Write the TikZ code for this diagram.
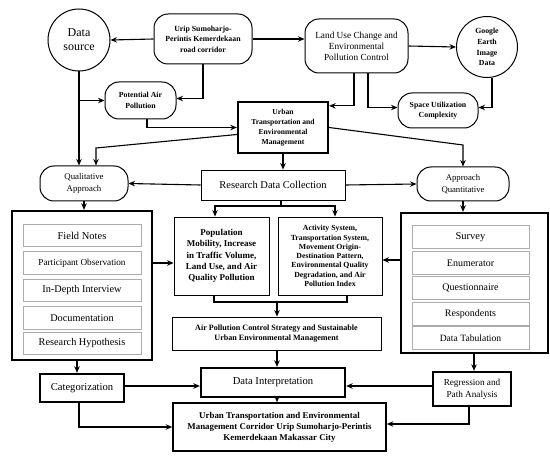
\documentclass[tikz,border=0pt]{standalone}
\usepackage{fontspec}
\setmainfont{Liberation Serif}
\usetikzlibrary{arrows.meta}

\tikzset{
  base/.style={draw, line width=1pt, align=center, inner sep=1pt},
  roundbox/.style={base, rounded corners=14pt},
  heavybox/.style={base, line width=2.3pt},
  listitem/.style={draw=gray!65, line width=0.8pt, align=center, inner sep=1pt,
                   minimum height=22.5pt},
  bubble/.style={circle, draw, line width=1pt, align=center, inner sep=0pt},
  arr/.style={-{Stealth[length=6.5pt,width=5.5pt]}, line width=1.1pt},
  ln/.style={line width=1.1pt},
}

\begin{document}
\begin{tikzpicture}[x=1pt,y=-1pt]
\useasboundingbox (0,0) rectangle (550,460);

% Bovenste rij
\node[bubble, minimum size=62pt, font=\fontsize{12}{14}\selectfont] (src) at (79,40)
    {Data\\source};
\node[roundbox, minimum width=98pt, minimum height=50pt,
      font=\fontsize{7.8}{10.5}\selectfont\bfseries] (road) at (203,39)
    {Urip Sumoharjo-\\Perintis Kemerdekaan\\road corridor};
\node[roundbox, minimum width=103pt, minimum height=54pt,
      font=\fontsize{9.3}{11}\selectfont] (landuse) at (356.5,46)
    {Land Use Change and\\Environmental\\Pollution Control};
\node[bubble, minimum size=61pt, font=\fontsize{7.8}{10.7}\selectfont\bfseries] (earth) at (487,47)
    {Google\\Earth\\Image\\Data};

% Tweede rij
\node[roundbox, minimum width=71pt, minimum height=37pt,
      font=\fontsize{7.8}{11}\selectfont\bfseries] (potair) at (140.5,100.5)
    {Potential Air\\Pollution};
\node[roundbox, minimum width=80pt, minimum height=35pt,
      font=\fontsize{7.8}{10}\selectfont\bfseries] (spaceuse) at (438,110.5)
    {Space Utilization\\Complexity};
\node[heavybox, minimum width=90pt, minimum height=51pt,
      font=\fontsize{7.6}{10}\selectfont\bfseries] (urban) at (283,127.5)
    {Urban\\Transportation and\\Environmental\\Management};

% Benaderingen en dataverzameling
\node[roundbox, minimum width=88pt, minimum height=35pt,
      font=\fontsize{8.8}{12}\selectfont] (qual) at (84,183.5)
    {Qualitative\\Approach};
\node[roundbox, minimum width=92pt, minimum height=34pt,
      font=\fontsize{8.7}{12}\selectfont] (quant) at (463,184)
    {Approach\\Quantitative};
\node[base, line width=0.8pt, minimum width=144pt, minimum height=30pt,
      font=\fontsize{10.5}{12}\selectfont] (collect) at (273,185)
    {Research Data Collection};

% Variabelen
\node[base, line width=0.9pt, minimum width=95pt, minimum height=78pt,
      font=\fontsize{9}{11.3}\selectfont\bfseries] (mobility) at (221.5,256)
    {Population\\Mobility, Increase\\in Traffic Volume,\\Land Use, and Air\\Quality Pollution};
\node[base, line width=0.9pt, minimum width=104pt, minimum height=78pt,
      font=\fontsize{7.8}{9.3}\selectfont\bfseries] (activity) at (330,256)
    {Activity System,\\Transportation System,\\Movement Origin-\\Destination Pattern,\\Environmental Quality\\Degradation, and Air\\Pollution Index};

% Kwalitatieve methoden
\node[heavybox, minimum width=140pt, minimum height=149pt] (qualbox) at (82,285.5) {};
\node[listitem, minimum width=118pt, font=\fontsize{10.5}{12}\selectfont] (notes) at (82,235.5) {Field Notes};
\node[listitem, minimum width=118pt, font=\fontsize{9.2}{12}\selectfont] (observe) at (82,263) {Participant Observation};
\node[listitem, minimum width=118pt, font=\fontsize{10.3}{12}\selectfont] (interview) at (82,290.5) {In-Depth Interview};
\node[listitem, minimum width=118pt, font=\fontsize{10.3}{12}\selectfont] (docs) at (82,318) {Documentation};
\node[listitem, minimum width=118pt, font=\fontsize{10.3}{12}\selectfont] (hypo) at (82,343.5) {Research Hypothesis};

% Kwantitatieve methoden
\node[heavybox, minimum width=147pt, minimum height=140pt] (quantbox) at (474.5,283) {};
\node[listitem, minimum width=117pt, font=\fontsize{10.5}{12}\selectfont] (survey) at (470.5,237) {Survey};
\node[listitem, minimum width=117pt, font=\fontsize{10}{12}\selectfont] (enum) at (470.5,263) {Enumerator};
\node[listitem, minimum width=117pt, font=\fontsize{10}{12}\selectfont] (quest) at (470.5,288) {Questionnaire};
\node[listitem, minimum width=117pt, font=\fontsize{10}{12}\selectfont] (resp) at (470.5,314) {Respondents};
\node[listitem, minimum width=117pt, font=\fontsize{9.6}{12}\selectfont] (tabul) at (470.5,338) {Data Tabulation};

% Onderste deel
\node[base, line width=0.9pt, minimum width=209pt, minimum height=33pt,
      font=\fontsize{8.1}{10.7}\selectfont\bfseries] (strategy) at (276.5,333.5)
    {Air Pollution Control Strategy and Sustainable\\Urban Environmental Management};
\node[heavybox, minimum width=144pt, minimum height=29pt,
      font=\fontsize{10.6}{12}\selectfont] (interp) at (273,382.5)
    {Data Interpretation};
\node[heavybox, minimum width=84pt, minimum height=28pt,
      font=\fontsize{10.6}{12}\selectfont] (categ) at (82,388)
    {Categorization};
\node[heavybox, minimum width=78pt, minimum height=34pt,
      font=\fontsize{9.2}{12}\selectfont] (regress) at (472,389)
    {Regression and\\Path Analysis};
\node[base, line width=1.5pt, minimum width=213pt, minimum height=48pt,
      font=\fontsize{8.9}{11}\selectfont\bfseries] (corridor) at (279.5,427)
    {Urban Transportation and Environmental\\Management Corridor Urip Sumoharjo-Perintis\\Kemerdekaan Makassar City};

% Hulpcoordinaten
\coordinate (qbend) at (96,148);
\coordinate (nbend) at (463,145);
\coordinate (split) at (281,206);
\coordinate (join) at (277,302);

% Verbindingen bovenaan
\draw[arr] (road.west) -- (src.east);
\draw[arr] (road.east) -- (road.east -| landuse.west);
\draw[arr] (landuse.east) -- (earth.west);
\draw[arr] ([xshift=5pt]earth.south) |- ([yshift=3pt]spaceuse.east);
\draw[arr] ([xshift=-2.5pt]landuse.south) |- ([yshift=-5pt]urban.north east);
\draw[arr] ([xshift=11.5pt]landuse.south) |- ([yshift=3pt]spaceuse.west);
\draw[arr] (road.south) |- ([yshift=2pt]potair.east);
\draw[arr] (src.south) -- (src.south |- qual.north);
\draw[arr] (src.south |- potair.west) -- (potair.west);
\draw[arr] ([xshift=6.5pt]potair.south) |- (urban.west);

% Naar de benaderingen
\draw[arr] ([yshift=-7pt]urban.west) -- (qbend) -- (qbend |- qual.north);
\draw[arr] (urban.east) -- (nbend) -- (quant.north);
\draw[arr] (urban.south) -- (urban.south |- collect.north);
\draw[arr] (collect.west) -- (qual.east);
\draw[arr] (collect.east) -- (quant.west);

% Dataverzameling naar variabelen
\draw[ln] (split |- collect.south) -- (split);
\draw[arr] (split) -| ([xshift=-6.5pt]mobility.north);
\draw[arr] (split) -| ([xshift=5pt]activity.north);
\draw[ln] ([xshift=-7.5pt]mobility.south) |- (join);
\draw[ln] ([xshift=17pt]activity.south) |- (join);
\draw[arr] (join) -- (join |- strategy.north);

% Methoden
\draw[arr] (qual.south) -- (qual.south |- qualbox.north);
\draw[arr] (quant.south) -- (quant.south |- quantbox.north);
\draw[arr] (observe.east -| qualbox.east) -- (observe.east -| mobility.west);
\draw[arr] ([yshift=3pt]enum.west -| quantbox.west) -- ([yshift=3pt]enum.west -| activity.east);

% Analyse en resultaat
\draw[arr] ([xshift=-5pt]qualbox.south) -- ([xshift=-5pt]categ.north);
\draw[arr] ([xshift=-0.5pt]quantbox.south) -- ([xshift=2pt]regress.north);
\draw[arr] (strategy.south -| join) -- (join |- interp.north);
\draw[arr] ([yshift=2pt]categ.east) -- ([yshift=-3.5pt]interp.west);
\draw[arr] ([yshift=3pt]regress.west) -- ([yshift=-3.5pt]interp.east);
\draw[arr] (interp.south -| join) -- (join |- corridor.north);
\draw[arr] ([xshift=-3pt]categ.south) |- (corridor.west);
\draw[arr] ([xshift=-3pt]regress.south) |- ([yshift=3pt]corridor.east);
\end{tikzpicture}
\end{document}
